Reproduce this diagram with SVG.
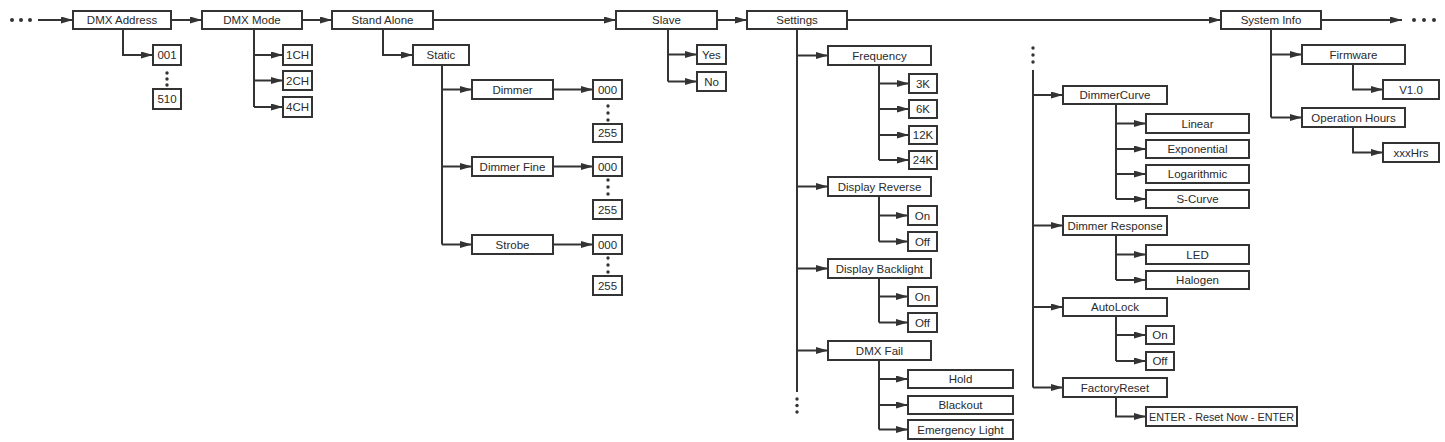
<svg xmlns="http://www.w3.org/2000/svg" width="1445" height="442" viewBox="0 0 1445 442">
<style>
.b{fill:#fff;stroke:#333;stroke-width:2}
.t{font-family:"Liberation Sans",Arial,sans-serif;font-size:11.5px;fill:#2a2a2a;text-anchor:middle;dominant-baseline:central}
.c{fill:none;stroke:#333;stroke-width:2}
.a{marker-end:url(#ah)}
.d{fill:#333}
</style>
<defs>
<marker id="ah" markerUnits="userSpaceOnUse" markerWidth="13" markerHeight="8" refX="12" refY="3.5" orient="auto">
<path d="M0,0 L12,3.5 L0,7 z" fill="#333"/>
</marker>
</defs>
<rect width="1445" height="442" fill="#fff"/>
<g id="connectors">
<circle class="d" cx="12" cy="20" r="2"/><circle class="d" cx="21" cy="20" r="2"/><circle class="d" cx="30" cy="20" r="2"/>
<path class="c a" d="M38,20 H73"/>
<path class="c a" d="M171,20 H202"/>
<path class="c a" d="M302,20 H332"/>
<path class="c a" d="M433,20 H616"/>
<path class="c a" d="M717,20 H747"/>
<path class="c a" d="M847,20 H1221"/>
<path class="c a" d="M1321,20 H1402"/>
<circle class="d" cx="1414" cy="20" r="2"/><circle class="d" cx="1424" cy="20" r="2"/><circle class="d" cx="1434" cy="20" r="2"/>
<path class="c a" d="M123,29 V55 H153"/>
<circle class="d" cx="167" cy="73" r="1.7"/><circle class="d" cx="167" cy="79" r="1.7"/><circle class="d" cx="167" cy="85" r="1.7"/>
<path class="c" d="M254,29 V107"/>
<path class="c a" d="M254,55 H283"/><path class="c a" d="M254,80.5 H283"/><path class="c a" d="M254,107 H283"/>
<path class="c a" d="M383,29 V55 H413"/>
<path class="c" d="M442,65 V244.5"/>
<path class="c a" d="M442,89.5 H472"/><path class="c a" d="M442,166.5 H472"/><path class="c a" d="M442,244.5 H472"/>
<path class="c a" d="M553,89.5 H593"/><path class="c a" d="M553,166.5 H593"/><path class="c a" d="M553,244.5 H593"/>
<circle class="d" cx="608" cy="106" r="1.7"/><circle class="d" cx="608" cy="113" r="1.7"/><circle class="d" cx="608" cy="120" r="1.7"/>
<circle class="d" cx="608" cy="180" r="1.7"/><circle class="d" cx="608" cy="187" r="1.7"/><circle class="d" cx="608" cy="194" r="1.7"/>
<circle class="d" cx="608" cy="258" r="1.7"/><circle class="d" cx="608" cy="265" r="1.7"/><circle class="d" cx="608" cy="272" r="1.7"/>
<path class="c" d="M668,29 V81.5"/>
<path class="c a" d="M668,54.5 H697"/><path class="c a" d="M668,81.5 H697"/>
<path class="c" d="M797,30 V392"/>
<path class="c a" d="M797,55.5 H828"/><path class="c a" d="M797,186.5 H828"/><path class="c a" d="M797,268.5 H828"/><path class="c a" d="M797,350.5 H828"/>
<circle class="d" cx="797" cy="399" r="1.7"/><circle class="d" cx="797" cy="405.5" r="1.7"/><circle class="d" cx="797" cy="412" r="1.7"/>
<path class="c" d="M879,65 V160"/>
<path class="c a" d="M879,83.5 H909"/><path class="c a" d="M879,109 H909"/><path class="c a" d="M879,135 H909"/><path class="c a" d="M879,160 H909"/>
<path class="c" d="M879,196 V241.5"/>
<path class="c a" d="M879,215.5 H908"/><path class="c a" d="M879,241.5 H908"/>
<path class="c" d="M879,278 V322.5"/>
<path class="c a" d="M879,296.5 H908"/><path class="c a" d="M879,322.5 H908"/>
<path class="c" d="M879,360 V429.5"/>
<path class="c a" d="M879,379 H908"/><path class="c a" d="M879,405 H908"/><path class="c a" d="M879,429.5 H908"/>
<circle class="d" cx="1033" cy="48" r="1.7"/><circle class="d" cx="1033" cy="55" r="1.7"/><circle class="d" cx="1033" cy="62" r="1.7"/>
<path class="c" d="M1033,70 V387.5"/>
<path class="c a" d="M1033,95 H1063"/><path class="c a" d="M1033,225.5 H1063"/><path class="c a" d="M1033,307 H1063"/><path class="c a" d="M1033,387.5 H1063"/>
<path class="c" d="M1116,104 V199"/>
<path class="c a" d="M1116,123.5 H1146"/><path class="c a" d="M1116,149 H1146"/><path class="c a" d="M1116,174 H1146"/><path class="c a" d="M1116,199 H1146"/>
<path class="c" d="M1116,235 V280"/>
<path class="c a" d="M1116,254.5 H1146"/><path class="c a" d="M1116,280 H1146"/>
<path class="c" d="M1116,316 V361"/>
<path class="c a" d="M1116,335 H1146"/><path class="c a" d="M1116,361 H1146"/>
<path class="c a" d="M1116,397 V416.5 H1146"/>
<path class="c" d="M1271,30 V117.5"/>
<path class="c a" d="M1271,54.5 H1302"/><path class="c a" d="M1271,117.5 H1302"/>
<path class="c a" d="M1353,64 V89.5 H1383"/>
<path class="c a" d="M1353,127 V152.5 H1383"/>
</g>
<g id="dmx-address"><rect class="b" x="73" y="11" width="98" height="18"/><text class="t" x="122" y="20">DMX Address</text></g>
<g id="dmx-mode"><rect class="b" x="202" y="11" width="100" height="18"/><text class="t" x="252" y="20">DMX Mode</text></g>
<g id="stand-alone"><rect class="b" x="332" y="11" width="101" height="18"/><text class="t" x="382.5" y="20">Stand Alone</text></g>
<g id="slave"><rect class="b" x="616" y="11" width="101" height="18"/><text class="t" x="666.5" y="20">Slave</text></g>
<g id="settings"><rect class="b" x="747" y="11" width="100" height="18"/><text class="t" x="797" y="20">Settings</text></g>
<g id="system-info"><rect class="b" x="1221" y="11" width="100" height="18"/><text class="t" x="1271" y="20">System Info</text></g>
<g id="addr-001"><rect class="b" x="153" y="45" width="28" height="20"/><text class="t" x="167" y="55">001</text></g>
<g id="addr-510"><rect class="b" x="153" y="89" width="28" height="20"/><text class="t" x="167" y="99">510</text></g>
<g id="mode-1ch"><rect class="b" x="283" y="45" width="29" height="20"/><text class="t" x="297.5" y="55">1CH</text></g>
<g id="mode-2ch"><rect class="b" x="283" y="71" width="29" height="19"/><text class="t" x="297.5" y="80.5">2CH</text></g>
<g id="mode-4ch"><rect class="b" x="283" y="97" width="29" height="20"/><text class="t" x="297.5" y="107">4CH</text></g>
<g id="static"><rect class="b" x="413" y="45" width="56" height="20"/><text class="t" x="441" y="55">Static</text></g>
<g id="dimmer"><rect class="b" x="472" y="80" width="81" height="19"/><text class="t" x="512.5" y="89.5">Dimmer</text></g>
<g id="dimmer-000"><rect class="b" x="593" y="80" width="29" height="19"/><text class="t" x="607.5" y="89.5">000</text></g>
<g id="dimmer-255"><rect class="b" x="593" y="124" width="29" height="18"/><text class="t" x="607.5" y="133">255</text></g>
<g id="dimmer-fine"><rect class="b" x="472" y="157" width="81" height="19"/><text class="t" x="512.5" y="166.5">Dimmer Fine</text></g>
<g id="fine-000"><rect class="b" x="593" y="157" width="29" height="19"/><text class="t" x="607.5" y="166.5">000</text></g>
<g id="fine-255"><rect class="b" x="593" y="200" width="29" height="19"/><text class="t" x="607.5" y="209.5">255</text></g>
<g id="strobe"><rect class="b" x="472" y="235" width="81" height="19"/><text class="t" x="512.5" y="244.5">Strobe</text></g>
<g id="strobe-000"><rect class="b" x="593" y="235" width="29" height="19"/><text class="t" x="607.5" y="244.5">000</text></g>
<g id="strobe-255"><rect class="b" x="593" y="276" width="29" height="19"/><text class="t" x="607.5" y="285.5">255</text></g>
<g id="slave-yes"><rect class="b" x="697" y="45" width="29" height="19"/><text class="t" x="711.5" y="54.5">Yes</text></g>
<g id="slave-no"><rect class="b" x="697" y="72" width="29" height="19"/><text class="t" x="711.5" y="81.5">No</text></g>
<g id="frequency"><rect class="b" x="828" y="46" width="103" height="19"/><text class="t" x="879.5" y="55.5">Frequency</text></g>
<g id="f-3k"><rect class="b" x="909" y="74" width="28" height="19"/><text class="t" x="923" y="83.5">3K</text></g>
<g id="f-6k"><rect class="b" x="909" y="100" width="28" height="18"/><text class="t" x="923" y="109">6K</text></g>
<g id="f-12k"><rect class="b" x="909" y="126" width="28" height="18"/><text class="t" x="923" y="135">12K</text></g>
<g id="f-24k"><rect class="b" x="909" y="151" width="28" height="18"/><text class="t" x="923" y="160">24K</text></g>
<g id="display-reverse"><rect class="b" x="828" y="177" width="103" height="19"/><text class="t" x="879.5" y="186.5">Display Reverse</text></g>
<g id="dr-on"><rect class="b" x="908" y="206" width="29" height="19"/><text class="t" x="922.5" y="215.5">On</text></g>
<g id="dr-off"><rect class="b" x="908" y="232" width="29" height="19"/><text class="t" x="922.5" y="241.5">Off</text></g>
<g id="display-backlight"><rect class="b" x="828" y="259" width="103" height="19"/><text class="t" x="879.5" y="268.5">Display Backlight</text></g>
<g id="db-on"><rect class="b" x="908" y="287" width="29" height="19"/><text class="t" x="922.5" y="296.5">On</text></g>
<g id="db-off"><rect class="b" x="908" y="313" width="29" height="19"/><text class="t" x="922.5" y="322.5">Off</text></g>
<g id="dmx-fail"><rect class="b" x="828" y="341" width="103" height="19"/><text class="t" x="879.5" y="350.5">DMX Fail</text></g>
<g id="hold"><rect class="b" x="908" y="370" width="105" height="18"/><text class="t" x="960.5" y="379">Hold</text></g>
<g id="blackout"><rect class="b" x="908" y="396" width="105" height="18"/><text class="t" x="960.5" y="405">Blackout</text></g>
<g id="emergency-light"><rect class="b" x="908" y="420" width="105" height="19"/><text class="t" x="960.5" y="429.5">Emergency Light</text></g>
<g id="dimmer-curve"><rect class="b" x="1063" y="86" width="104" height="18"/><text class="t" x="1115" y="95">DimmerCurve</text></g>
<g id="linear"><rect class="b" x="1146" y="114" width="103" height="19"/><text class="t" x="1197.5" y="123.5">Linear</text></g>
<g id="exponential"><rect class="b" x="1146" y="140" width="103" height="18"/><text class="t" x="1197.5" y="149">Exponential</text></g>
<g id="logarithmic"><rect class="b" x="1146" y="165" width="103" height="18"/><text class="t" x="1197.5" y="174">Logarithmic</text></g>
<g id="s-curve"><rect class="b" x="1146" y="190" width="103" height="18"/><text class="t" x="1197.5" y="199">S-Curve</text></g>
<g id="dimmer-response"><rect class="b" x="1063" y="216" width="104" height="19"/><text class="t" x="1115" y="225.5">Dimmer Response</text></g>
<g id="led"><rect class="b" x="1146" y="245" width="103" height="19"/><text class="t" x="1197.5" y="254.5">LED</text></g>
<g id="halogen"><rect class="b" x="1146" y="271" width="103" height="18"/><text class="t" x="1197.5" y="280">Halogen</text></g>
<g id="autolock"><rect class="b" x="1063" y="298" width="104" height="18"/><text class="t" x="1115" y="307">AutoLock</text></g>
<g id="al-on"><rect class="b" x="1146" y="326" width="28" height="18"/><text class="t" x="1160" y="335">On</text></g>
<g id="al-off"><rect class="b" x="1146" y="352" width="28" height="18"/><text class="t" x="1160" y="361">Off</text></g>
<g id="factory-reset"><rect class="b" x="1063" y="378" width="104" height="19"/><text class="t" x="1115" y="387.5">FactoryReset</text></g>
<g id="reset-now"><rect class="b" x="1146" y="407" width="151" height="19"/><text class="t" x="1221.5" y="416.5" textLength="145" lengthAdjust="spacingAndGlyphs">ENTER - Reset Now - ENTER</text></g>
<g id="firmware"><rect class="b" x="1302" y="45" width="103" height="19"/><text class="t" x="1353.5" y="54.5">Firmware</text></g>
<g id="v10"><rect class="b" x="1383" y="80" width="56" height="19"/><text class="t" x="1411" y="89.5">V1.0</text></g>
<g id="operation-hours"><rect class="b" x="1302" y="108" width="103" height="19"/><text class="t" x="1353.5" y="117.5">Operation Hours</text></g>
<g id="xxxhrs"><rect class="b" x="1383" y="143" width="56" height="19"/><text class="t" x="1411" y="152.5">xxxHrs</text></g>
</svg>
